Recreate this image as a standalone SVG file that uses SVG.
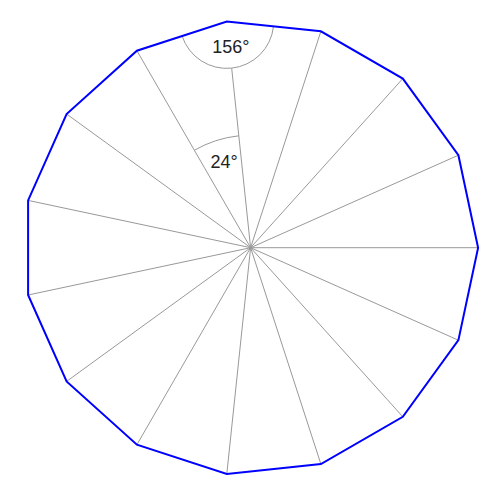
<svg xmlns="http://www.w3.org/2000/svg" width="500" height="496" viewBox="0 0 500 496">
<style>
.spoke{stroke:#999;stroke-width:1;fill:none}
.arc{stroke:#999;stroke-width:1;fill:none}
.poly{stroke:#0000ff;stroke-width:2;fill:none;stroke-linejoin:miter}
.lbl{font-family:"Liberation Sans",Arial,sans-serif;font-size:18px;fill:#222;text-anchor:middle}
</style>
<rect width="500" height="496" fill="#fff"/>
<g id="spokes">
<line class="spoke" x1="250.6" y1="247.7" x2="478.1" y2="247.7"/>
<line class="spoke" x1="250.6" y1="247.7" x2="458.4" y2="340.2"/>
<line class="spoke" x1="250.6" y1="247.7" x2="402.8" y2="416.8"/>
<line class="spoke" x1="250.6" y1="247.7" x2="320.9" y2="464.1"/>
<line class="spoke" x1="250.6" y1="247.7" x2="226.8" y2="473.9"/>
<line class="spoke" x1="250.6" y1="247.7" x2="136.9" y2="444.7"/>
<line class="spoke" x1="250.6" y1="247.7" x2="66.6" y2="381.4"/>
<line class="spoke" x1="250.6" y1="247.7" x2="28.1" y2="295.0"/>
<line class="spoke" x1="250.6" y1="247.7" x2="28.1" y2="200.4"/>
<line class="spoke" x1="250.6" y1="247.7" x2="66.6" y2="114.0"/>
<line class="spoke" x1="250.6" y1="247.7" x2="136.9" y2="50.7"/>
<line class="spoke" x1="250.6" y1="247.7" x2="231.7" y2="68.3"/>
<line class="spoke" x1="250.6" y1="247.7" x2="320.9" y2="31.3"/>
<line class="spoke" x1="250.6" y1="247.7" x2="402.8" y2="78.6"/>
<line class="spoke" x1="250.6" y1="247.7" x2="458.4" y2="155.2"/>
</g>
<g id="angles">
<path class="arc" d="M273.5,26.4 A47,47 0 0 1 182.1,36.0"/>
<path class="arc" d="M194.35,150.3 A112.5,112.5 0 0 1 238.84,135.8"/>
<text class="lbl" x="230.8" y="52.5">156°</text>
<text class="lbl" x="224.2" y="167.8">24°</text>
</g>
<g id="polygon">
<polygon class="poly" points="478.1,247.7 458.4,340.2 402.8,416.8 320.9,464.1 226.8,473.9 136.9,444.7 66.6,381.4 28.1,295.0 28.1,200.4 66.6,114.0 136.9,50.7 226.8,21.5 320.9,31.3 402.8,78.6 458.4,155.2"/>
</g>
</svg>
